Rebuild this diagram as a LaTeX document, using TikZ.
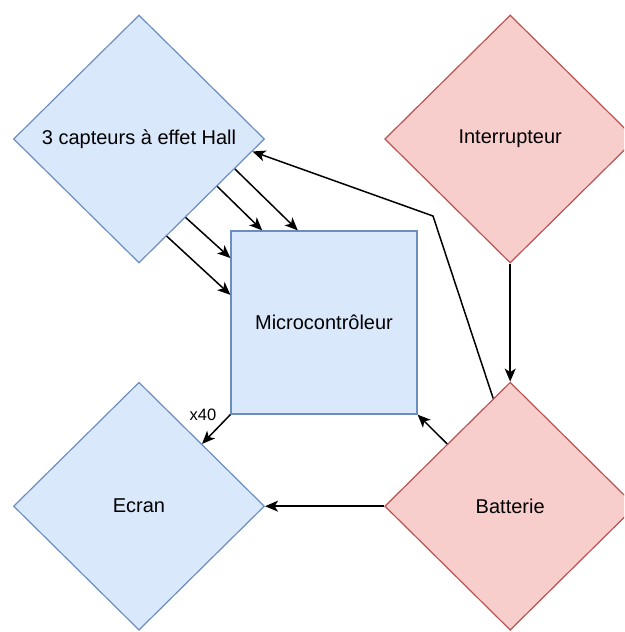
\documentclass[tikz,border=0pt]{standalone}
\usepackage{fontspec}
\setmainfont{Liberation Sans}
\usetikzlibrary{arrows.meta,positioning,shapes.geometric,calc}
\definecolor{bleufond}{HTML}{DAE8FC}
\definecolor{bleutrait}{HTML}{6C8EBF}
\definecolor{rougefond}{HTML}{F8CECC}
\definecolor{rougetrait}{HTML}{B85450}

\begin{document}
\begin{tikzpicture}[x=1pt,y=-1pt,>={Stealth[length=13pt,width=11pt,inset=3.5pt]}]
	\tikzstyle{losange}=[diamond, minimum width=251pt, minimum height=248pt, inner sep=0pt, line width=1.2pt, font=\fontsize{20}{24}\selectfont]
	\tikzstyle{bleu}=[draw=bleutrait, fill=bleufond]
	\tikzstyle{rouge}=[draw=rougetrait, fill=rougefond]
	\tikzstyle{rect}=[draw=bleutrait, fill=bleufond, rectangle, line width=1.2pt, minimum width=186pt, minimum height=183pt, font=\fontsize{20}{24}\selectfont]
	\tikzstyle{fleche}=[->, line width=1.5pt]

	\useasboundingbox (0,0) rectangle (624,632);
	\clip (0,0) rectangle (624,632);

	\node[losange, bleu] (capteurs) at (139,139) {3 capteurs à effet Hall};
	\node[losange, rouge] (inter) [right=119pt of capteurs] {Interrupteur};
	\node[losange, bleu] (ecran) [below=118pt of capteurs] {Ecran};
	\node[losange, rouge] (batt) [right=119pt of ecran] {Batterie};

	\node[rect] (micro) at (324,322.5) {Microcontrôleur};
	\node[font=\fontsize{16.5}{20}\selectfont, anchor=east, inner sep=0pt] (fois) at ([xshift=-14pt]micro.south west) {x40};

	\draw[fleche] ($(capteurs.south)!0.22!(capteurs.east)$) -- ($(micro.north west)!0.35!(micro.south west)$);
	\draw[fleche] ($(capteurs.south)!0.37!(capteurs.east)$) -- ($(micro.north west)!0.15!(micro.south west)$);
	\draw[fleche] ($(capteurs.south)!0.62!(capteurs.east)$) -- ($(micro.north west)!0.17!(micro.north east)$);
	\draw[fleche] ($(capteurs.south)!0.76!(capteurs.east)$) -- ($(micro.north west)!0.36!(micro.north east)$);

	\draw[fleche] (inter.south) -- (batt.north);
	\draw[fleche] (batt.west) -- (ecran.east);
	\draw[fleche] ($(batt.north)!0.5!(batt.west)$) -- (micro.south east);
	\draw[fleche] (micro.south west) -- ($(ecran.north)!0.5!(ecran.east)$);
	\draw[fleche] ($(batt.north)!0.135!(batt.west)$) -- (433,216) -- ($(capteurs.east)!0.1!(capteurs.south)$);
\end{tikzpicture}
\end{document}
